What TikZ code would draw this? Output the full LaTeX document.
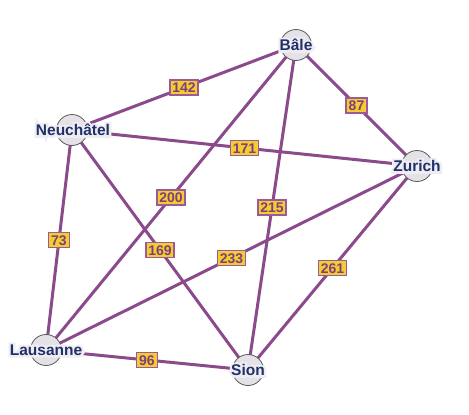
\documentclass[tikz,border=0pt]{standalone}
\usepackage{fontspec}
\setmainfont{Liberation Sans}
\newfontface\halofont{Liberation Sans Bold}[FakeBold=30]
\definecolor{edgecol}{HTML}{8A4A8C}
\definecolor{wfill}{HTML}{F4CC2E}
\definecolor{wborder}{HTML}{9A5A9C}
\definecolor{wtext}{HTML}{7E3F82}
\definecolor{cfill}{HTML}{E4E1E7}
\definecolor{cborder}{HTML}{5A5A5A}
\definecolor{ctext}{HTML}{22306A}
\definecolor{halo}{HTML}{EEEDF2}
\tikzset{
  edge/.style={draw=edgecol, line width=3pt},
  city/.style={circle, draw=cborder, fill=cfill, line width=0.8pt, minimum size=31pt, inner sep=0pt},
  cityname/.style={inner sep=0pt, font=\fontsize{15.5}{15.5}\selectfont\bfseries, text=ctext},
  cityhalo/.style={inner sep=0pt, font=\fontsize{15.5}{15.5}\selectfont\halofont, text=halo},
  weight/.style={draw=wborder, fill=wfill, line width=1.5pt, inner xsep=2.5pt, inner ysep=2.5pt,
    text height=10pt, text depth=0pt, font=\fontsize{14}{14}\selectfont\bfseries, text=wtext}
}
\begin{document}
\begin{tikzpicture}[x=1pt,y=1pt]
\useasboundingbox (0,0) rectangle (469,-415);
% positions
\coordinate (Bale) at (296,-45);
\coordinate (Neu) at (72,-130);
\coordinate (Zur) at (417,-166);
\coordinate (Lau) at (46,-350);
\coordinate (Sion) at (248,-370);
% edges
\draw[edge] (Neu) -- (Bale) coordinate[midway] (m1);
\draw[edge] (Neu) -- (Zur) coordinate[midway] (m2);
\draw[edge] (Bale) -- (Zur) coordinate[midway] (m3);
\draw[edge] (Lau) -- (Bale) coordinate[midway] (m4);
\draw[edge] (Sion) -- (Bale) coordinate[midway] (m5);
\draw[edge] (Neu) -- (Lau) coordinate[midway] (m6);
\draw[edge] (Neu) -- (Sion) coordinate[midway] (m7);
\draw[edge] (Lau) -- (Zur) coordinate[midway] (m8);
\draw[edge] (Sion) -- (Zur) coordinate[midway] (m9);
\draw[edge] (Lau) -- (Sion) coordinate[midway] (m10);
% cities
\node[city] (BaleC) at (Bale) {};
\node[city] (NeuC) at (Neu) {};
\node[city] (ZurC) at (Zur) {};
\node[city] (LauC) at (Lau) {};
\node[city] (SionC) at (Sion) {};
% weights
\node[weight] (w1) at (m1) {142};
\node[weight] (w2) at (m2) {171};
\node[weight] (w3) at (m3) {87};
\node[weight] (w4) at (m4) {200};
\node[weight] (w5) at (m5) {215};
\node[weight] (w6) at (m6) {73};
\node[weight] (w7) at (m7) {169};
\node[weight] (w8) at (m8) {233};
\node[weight] (w9) at (m9) {261};
\node[weight] (w10) at (m10) {96};
% name halos
\node[cityhalo] (BaleH) at (Bale) {Bâle};
\node[cityhalo] (NeuH) at ([xshift=1pt]Neu) {Neuchâtel};
\node[cityhalo] (ZurH) at (Zur) {Zurich};
\node[cityhalo] (LauH) at (Lau) {Lausanne};
\node[cityhalo] (SionH) at (Sion) {Sion};
% names
\node[cityname] (BaleT) at (Bale) {Bâle};
\node[cityname] (NeuT) at ([xshift=1pt]Neu) {Neuchâtel};
\node[cityname] (ZurT) at (Zur) {Zurich};
\node[cityname] (LauT) at (Lau) {Lausanne};
\node[cityname] (SionT) at (Sion) {Sion};
\end{tikzpicture}
\end{document}
